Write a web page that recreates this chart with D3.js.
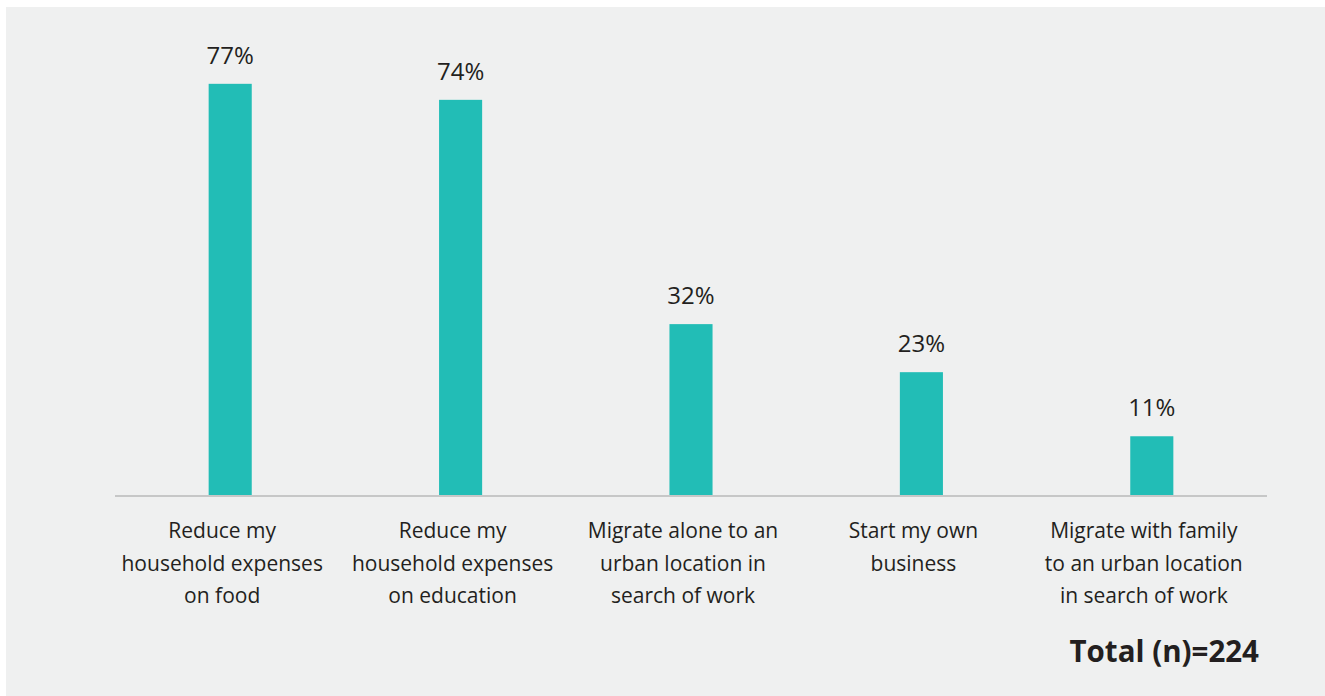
<!DOCTYPE html>
<meta charset="utf-8">
<style>
html, body { margin: 0; padding: 0; background: #fff; }
svg { display: block; font-family: "Open Sans", sans-serif; }
</style>
<body>
<script src="https://d3js.org/d3.v7.min.js"></script>
<script>

var width = 1325,
    height = 696;

// data
var categories = [
  ["Reduce my", "household expenses", "on food"],
  ["Reduce my", "household expenses", "on education"],
  ["Migrate alone to an", "urban location in", "search of work"],
  ["Start my own", "business"],
  ["Migrate with family", "to an urban location", "in search of work"]
];
var values = [77, 74, 32, 23, 11];
var totalLabel = "Total (n)=224";

var svg = d3.select("body").append("svg")
    .attr("width", width)
    .attr("height", height);

svg.append("rect")
    .attr("x", 6).attr("y", 7)
    .attr("width", width - 6).attr("height", height - 7)
    .attr("fill", "#eff0f0");

var baseY = 495;

var x = d3.scaleBand()
    .domain(d3.range(values.length))
    .range([115, 1267])
    .paddingInner(0.813)
    .paddingOuter(0.4065);

var y = d3.scaleLinear()
    .domain([0, 100])
    .range([baseY, baseY - 534]);

var g = svg.append("g");

g.selectAll("rect.bar")
  .data(values)
  .enter().append("rect")
    .attr("class", "bar")
    .attr("x", function(d, i) { return x(i); })
    .attr("y", function(d) { return y(d); })
    .attr("width", x.bandwidth())
    .attr("height", function(d) { return baseY - y(d); })
    .attr("fill", "#22bdb6");

g.selectAll("text.val")
  .data(values)
  .enter().append("text")
    .attr("class", "val")
    .attr("x", function(d, i) { return x(i) + x.bandwidth() / 2; })
    .attr("y", function(d) { return y(d) - 20; })
    .attr("text-anchor", "middle")
    .attr("font-size", 24)
    .attr("fill", "#231f20")
    .text(function(d) { return d + "%"; });

// baseline axis
svg.append("line")
    .attr("x1", 115).attr("x2", 1267)
    .attr("y1", baseY + 1).attr("y2", baseY + 1)
    .attr("stroke", "#c6c7c7")
    .attr("stroke-width", 2);

var labels = svg.selectAll("text.cat")
  .data(categories)
  .enter().append("text")
    .attr("class", "cat")
    .attr("text-anchor", "middle")
    .attr("font-size", 21)
    .attr("fill", "#231f20");

labels.selectAll("tspan")
  .data(function(d, i) { return d.map(function(t) { return {t: t, i: i}; }); })
  .enter().append("tspan")
    .attr("x", function(d) { return x(d.i) + x.bandwidth() / 2 - 8; })
    .attr("y", function(d, j) { return 538 + j * 32.5; })
    .text(function(d) { return d.t; });

svg.append("text")
    .attr("x", 1259)
    .attr("y", 662)
    .attr("text-anchor", "end")
    .attr("font-size", 29.5)
    .attr("font-weight", "bold")
    .attr("fill", "#231f20")
    .text(totalLabel);

</script>
</body>
